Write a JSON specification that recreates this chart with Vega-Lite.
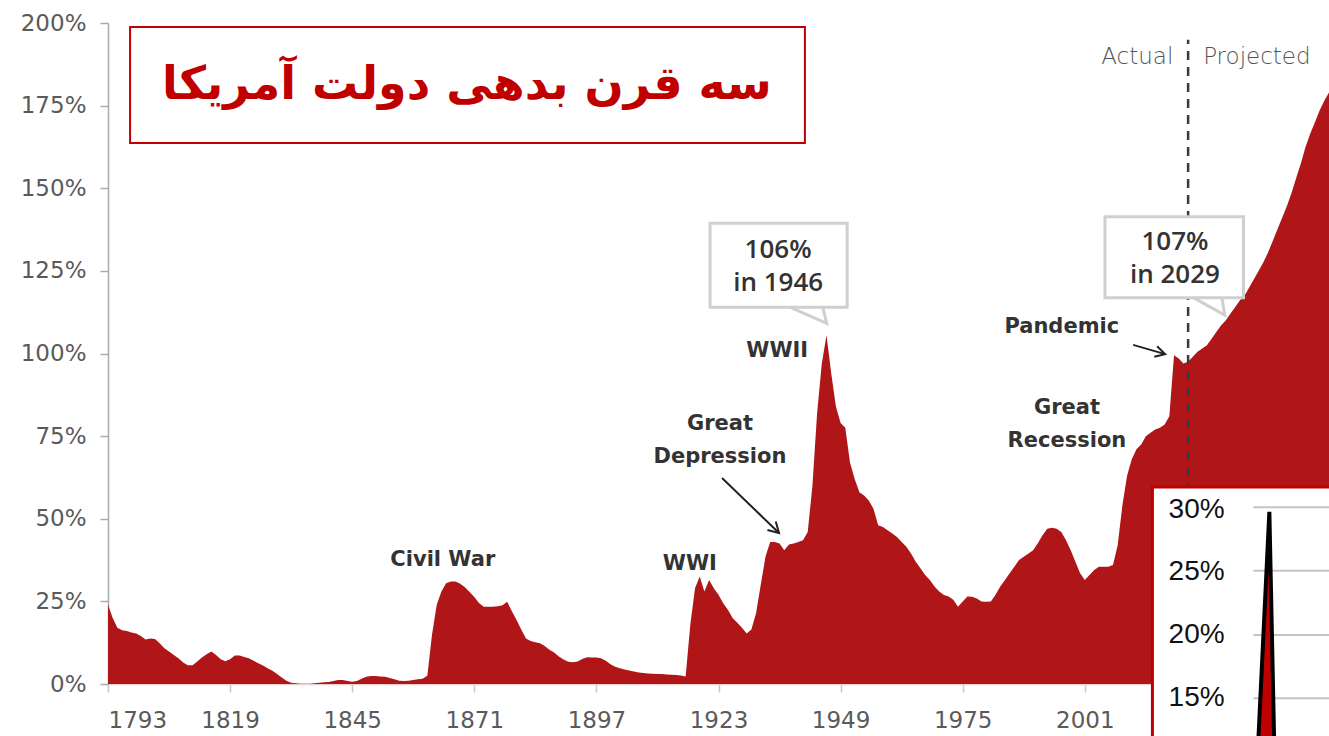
{
  "$schema": "https://vega.github.io/schema/vega-lite/v6.json",
  "width": 1221,
  "height": 661,
  "autosize": {"type": "none"},
  "padding": {"left": 108, "top": 23, "right": 0, "bottom": 52},
  "background": "white",
  "config": {"view": {"stroke": null}},
  "datasets": {
    "main": [
      {"year":1793,"v":24},{"year":1794,"v":20},{"year":1795,"v":17},{"year":1796,"v":16.3},{"year":1797,"v":16},{"year":1798,"v":15.6},{"year":1799,"v":15.3},{"year":1800,"v":14.5},{"year":1801,"v":13.5},{"year":1802,"v":13.8},{"year":1803,"v":13.6},{"year":1804,"v":12.3},{"year":1805,"v":10.8},{"year":1806,"v":9.8},{"year":1807,"v":8.8},{"year":1808,"v":7.8},{"year":1809,"v":6.5},{"year":1810,"v":5.7},{"year":1811,"v":5.7},{"year":1812,"v":6.8},{"year":1813,"v":8},{"year":1814,"v":9},{"year":1815,"v":9.8},{"year":1816,"v":8.8},{"year":1817,"v":7.5},{"year":1818,"v":6.9},{"year":1819,"v":7.5},{"year":1820,"v":8.6},{"year":1821,"v":8.6},{"year":1822,"v":8.2},{"year":1823,"v":7.8},{"year":1824,"v":7.0},{"year":1825,"v":6.3},{"year":1826,"v":5.6},{"year":1827,"v":4.8},{"year":1828,"v":4.0},{"year":1829,"v":3.0},{"year":1830,"v":2.0},{"year":1831,"v":1.0},{"year":1832,"v":0.4},{"year":1833,"v":0.2},{"year":1834,"v":0.1},{"year":1835,"v":0.1},{"year":1836,"v":0.1},{"year":1837,"v":0.2},{"year":1838,"v":0.4},{"year":1839,"v":0.5},{"year":1840,"v":0.6},{"year":1841,"v":0.9},{"year":1842,"v":1.2},{"year":1843,"v":1.2},{"year":1844,"v":0.9},{"year":1845,"v":0.7},{"year":1846,"v":0.9},{"year":1847,"v":1.6},{"year":1848,"v":2.2},{"year":1849,"v":2.4},{"year":1850,"v":2.4},{"year":1851,"v":2.3},{"year":1852,"v":2.2},{"year":1853,"v":1.8},{"year":1854,"v":1.4},{"year":1855,"v":1.0},{"year":1856,"v":0.9},{"year":1857,"v":1.0},{"year":1858,"v":1.2},{"year":1859,"v":1.4},{"year":1860,"v":1.6},{"year":1861,"v":2.5},{"year":1862,"v":15},{"year":1863,"v":24},{"year":1864,"v":28},{"year":1865,"v":30.5},{"year":1866,"v":31},{"year":1867,"v":31},{"year":1868,"v":30.3},{"year":1869,"v":29.3},{"year":1870,"v":27.8},{"year":1871,"v":26.3},{"year":1872,"v":24.5},{"year":1873,"v":23.4},{"year":1874,"v":23.4},{"year":1875,"v":23.4},{"year":1876,"v":23.5},{"year":1877,"v":23.8},{"year":1878,"v":24.9},{"year":1879,"v":22},{"year":1880,"v":19.4},{"year":1881,"v":16.5},{"year":1882,"v":13.8},{"year":1883,"v":13},{"year":1884,"v":12.6},{"year":1885,"v":12.3},{"year":1886,"v":11.5},{"year":1887,"v":10.4},{"year":1888,"v":9.5},{"year":1889,"v":8.3},{"year":1890,"v":7.4},{"year":1891,"v":6.7},{"year":1892,"v":6.6},{"year":1893,"v":6.8},{"year":1894,"v":7.6},{"year":1895,"v":8.1},{"year":1896,"v":8.0},{"year":1897,"v":8.0},{"year":1898,"v":7.8},{"year":1899,"v":7.0},{"year":1900,"v":6.0},{"year":1901,"v":5.2},{"year":1902,"v":4.8},{"year":1903,"v":4.4},{"year":1904,"v":4.1},{"year":1905,"v":3.8},{"year":1906,"v":3.5},{"year":1907,"v":3.3},{"year":1908,"v":3.2},{"year":1909,"v":3.1},{"year":1910,"v":3.0},{"year":1911,"v":3.0},{"year":1912,"v":2.9},{"year":1913,"v":2.8},{"year":1914,"v":2.7},{"year":1915,"v":2.6},{"year":1916,"v":2.3},{"year":1917,"v":18},{"year":1918,"v":29},{"year":1919,"v":32.5},{"year":1920,"v":28},{"year":1921,"v":31.5},{"year":1922,"v":29},{"year":1923,"v":27},{"year":1924,"v":24.4},{"year":1925,"v":22.5},{"year":1926,"v":20},{"year":1927,"v":18.5},{"year":1928,"v":17},{"year":1929,"v":15.3},{"year":1930,"v":16.5},{"year":1931,"v":21.4},{"year":1932,"v":30},{"year":1933,"v":38.5},{"year":1934,"v":43},{"year":1935,"v":43},{"year":1936,"v":42.5},{"year":1937,"v":40.5},{"year":1938,"v":42.2},{"year":1939,"v":42.5},{"year":1940,"v":43},{"year":1941,"v":43.5},{"year":1942,"v":46},{"year":1943,"v":60},{"year":1944,"v":82},{"year":1945,"v":97},{"year":1946,"v":105.5},{"year":1947,"v":94},{"year":1948,"v":84},{"year":1949,"v":79},{"year":1950,"v":77.5},{"year":1951,"v":67},{"year":1952,"v":62},{"year":1953,"v":58},{"year":1954,"v":57},{"year":1955,"v":55.5},{"year":1956,"v":53},{"year":1957,"v":48},{"year":1958,"v":47.5},{"year":1959,"v":46.5},{"year":1960,"v":45.5},{"year":1961,"v":44.5},{"year":1962,"v":43},{"year":1963,"v":41.5},{"year":1964,"v":39.5},{"year":1965,"v":37},{"year":1966,"v":35},{"year":1967,"v":33},{"year":1968,"v":31.5},{"year":1969,"v":29.5},{"year":1970,"v":28},{"year":1971,"v":26.9},{"year":1972,"v":26.5},{"year":1973,"v":25.5},{"year":1974,"v":23.4},{"year":1975,"v":25},{"year":1976,"v":26.5},{"year":1977,"v":26.4},{"year":1978,"v":25.9},{"year":1979,"v":25},{"year":1980,"v":24.9},{"year":1981,"v":25},{"year":1982,"v":27},{"year":1983,"v":29.5},{"year":1984,"v":31.5},{"year":1985,"v":33.5},{"year":1986,"v":35.5},{"year":1987,"v":37.5},{"year":1988,"v":38.5},{"year":1989,"v":39.5},{"year":1990,"v":40.5},{"year":1991,"v":42.6},{"year":1992,"v":45},{"year":1993,"v":47},{"year":1994,"v":47.3},{"year":1995,"v":47},{"year":1996,"v":46},{"year":1997,"v":43.5},{"year":1998,"v":40.5},{"year":1999,"v":37},{"year":2000,"v":33.5},{"year":2001,"v":31.5},{"year":2002,"v":33},{"year":2003,"v":34.5},{"year":2004,"v":35.5},{"year":2005,"v":35.5},{"year":2006,"v":35.5},{"year":2007,"v":36},{"year":2008,"v":42},{"year":2009,"v":54},{"year":2010,"v":63},{"year":2011,"v":68},{"year":2012,"v":71},{"year":2013,"v":72.5},{"year":2014,"v":75},{"year":2015,"v":76},{"year":2016,"v":77},{"year":2017,"v":77.5},{"year":2018,"v":78.5},{"year":2019,"v":81},{"year":2020,"v":99.5},{"year":2021,"v":98.5},{"year":2022,"v":97},{"year":2023,"v":97.5},{"year":2024,"v":99},{"year":2025,"v":100.5},{"year":2026,"v":101.5},{"year":2027,"v":102.5},{"year":2028,"v":104.5},{"year":2029,"v":106.5},{"year":2030,"v":108.5},{"year":2031,"v":110},{"year":2032,"v":112},{"year":2033,"v":114},{"year":2034,"v":116},{"year":2035,"v":117.5},{"year":2036,"v":120},{"year":2037,"v":122.5},{"year":2038,"v":125},{"year":2039,"v":127.5},{"year":2040,"v":130.5},{"year":2041,"v":134},{"year":2042,"v":137.5},{"year":2043,"v":141},{"year":2044,"v":144.5},{"year":2045,"v":148.5},{"year":2046,"v":153},{"year":2047,"v":157.5},{"year":2048,"v":162.5},{"year":2049,"v":166.5},{"year":2050,"v":170},{"year":2051,"v":173.5},{"year":2052,"v":176.5},{"year":2053,"v":179}
    ],
    "divider": [{"year": 2023, "v": 0, "v2": 194.9}],
    "notes": [
      {"year":1864.3,"v":37.5,"t":"Civil War"},
      {"year":1916.9,"v":36.3,"t":"WWI"},
      {"year":1923.3,"v":78.7,"t":"Great"},
      {"year":1923.3,"v":68.7,"t":"Depression"},
      {"year":1935.5,"v":100.8,"t":"WWII"},
      {"year":1996.1,"v":108.0,"t":"Pandemic"},
      {"year":1997.2,"v":83.5,"t":"Great"},
      {"year":1997.2,"v":73.5,"t":"Recession"}
    ],
    "arrows": [
      {"id":"a","o":1,"year":1923.75,"v":62.33},{"id":"a","o":2,"year":1935.89,"v":45.69},
      {"id":"b","o":1,"year":1935.19,"v":49.17},{"id":"b","o":2,"year":1935.89,"v":45.69},{"id":"b","o":3,"year":1933.42,"v":46.57},
      {"id":"c","o":1,"year":2011.3,"v":102.6},{"id":"c","o":2,"year":2018.1,"v":99.8},
      {"id":"d","o":1,"year":2016.4,"v":102.2},{"id":"d","o":2,"year":2018.1,"v":99.8},{"id":"d","o":3,"year":2015.8,"v":99.0}
    ],
    "boxes": [
      {"year":1921.2,"year2":1950.4,"v":139.4,"v2":114.0},
      {"year":2005.3,"year2":2034.8,"v":141.4,"v2":116.9}
    ],
    "tails": [
      {"id":"t1","o":1,"year":1938.2,"v":114.0},{"id":"t1","o":2,"year":1946.05,"v":109.1},{"id":"t1","o":3,"year":1945.2,"v":114.0},
      {"id":"t2","o":1,"year":2024.1,"v":116.9},{"id":"t2","o":2,"year":2030.8,"v":111.6},{"id":"t2","o":3,"year":2030.2,"v":116.9}
    ],
    "callouts": [
      {"year":1935.7,"v":131.3,"t":"106%"},
      {"year":1935.7,"v":121.2,"t":"in 1946"},
      {"year":2020.2,"v":133.8,"t":"107%"},
      {"year":2020.2,"v":123.8,"t":"in 2029"}
    ],
    "actual": [{"year":2019.85,"v":189.8,"t":"Actual"}],
    "projected": [{"year":2026.2,"v":189.8,"t":"Projected"}],
    "titleBox": [{"year":1797.7,"year2":1941.4,"v":198.8,"v2":163.7}],
    "titleText": [{"year":1869.4,"v":181.2,"t":"سه قرن بدهی دولت آمریکا"}],
    "insetBox": [{"year":2015.4,"year2":2070,"v":59.6,"v2":-25}],
    "insetGrid": [
      {"year":2036.9,"year2":2070,"v":53.5},
      {"year":2036.9,"year2":2070,"v":34.3},
      {"year":2036.9,"year2":2070,"v":14.8},
      {"year":2036.9,"year2":2070,"v":-4.3}
    ],
    "insetLabels": [
      {"year":2024.8,"v":52.6,"t":"30%"},
      {"year":2024.8,"v":34.0,"t":"25%"},
      {"year":2024.8,"v":14.8,"t":"20%"},
      {"year":2024.8,"v":-4.3,"t":"15%"}
    ],
    "spike": [
      {"year":2037.85,"v":-20,"v2":-20},
      {"year":2040.3,"v":52.1,"v2":-20},
      {"year":2041.36,"v":-20,"v2":-20}
    ]
  },
  "encoding": {
    "x": {
      "field": "year", "type": "quantitative",
      "scale": {"domain": [1793, 2053], "nice": false, "zero": false},
      "axis": {
        "title": null, "values": [1793,1819,1845,1871,1897,1923,1949,1975,2001],
        "format": "d", "grid": false,
        "labelFont": "DejaVu Sans", "labelFontSize": 23, "labelColor": "#5a5a5a",
        "labelPadding": 17, "tickSize": 8, "tickColor": "#c8c8c8", "tickWidth": 1.5,
        "domainColor": "#ecd0d0", "domainWidth": 1.5
      }
    },
    "y": {
      "field": "v", "type": "quantitative",
      "scale": {"domain": [0, 200], "nice": false},
      "axis": {
        "title": null, "values": [0,25,50,75,100,125,150,175,200],
        "labelExpr": "datum.value + '%'", "grid": false,
        "labelFont": "DejaVu Sans", "labelFontSize": 23, "labelColor": "#5a5a5a",
        "labelPadding": 14, "tickSize": 8, "tickColor": "#aaa", "tickWidth": 1.5,
        "domainColor": "#aaa", "domainWidth": 1.5
      }
    }
  },
  "layer": [
    {"data": {"name": "main"}, "mark": {"type": "area", "color": "#b01518", "interpolate": "linear"}},
    {"data": {"name": "divider"}, "mark": {"type": "rule", "color": "#3a3a3a", "strokeWidth": 2.5, "strokeDash": [9, 7]}, "encoding": {"y2": {"field": "v2"}}},
    {"data": {"name": "notes"}, "mark": {"type": "text", "font": "DejaVu Sans", "fontWeight": "bold", "fontSize": 21, "color": "#333", "align": "center", "baseline": "middle"}, "encoding": {"text": {"field": "t"}}},
    {"data": {"name": "arrows"}, "mark": {"type": "line", "color": "#222", "strokeWidth": 2}, "encoding": {"detail": {"field": "id"}, "order": {"field": "o"}}},
    {"data": {"name": "boxes"}, "mark": {"type": "rect", "fill": "white", "stroke": "#cfcfcf", "strokeWidth": 3}, "encoding": {"x2": {"field": "year2"}, "y2": {"field": "v2"}}},
    {"data": {"name": "tails"}, "mark": {"type": "line", "color": "#cfcfcf", "strokeWidth": 3}, "encoding": {"detail": {"field": "id"}, "order": {"field": "o"}}},
    {"data": {"name": "callouts"}, "mark": {"type": "text", "font": "Open Sans", "fontWeight": 600, "fontSize": 26, "color": "#333", "align": "center", "baseline": "middle"}, "encoding": {"text": {"field": "t"}}},
    {"data": {"name": "actual"}, "mark": {"type": "text", "font": "DejaVu Sans", "fontWeight": 300, "fontSize": 23, "color": "#555", "align": "right", "baseline": "middle"}, "encoding": {"text": {"field": "t"}}},
    {"data": {"name": "projected"}, "mark": {"type": "text", "font": "DejaVu Sans", "fontWeight": 300, "fontSize": 23, "color": "#555", "align": "left", "baseline": "middle"}, "encoding": {"text": {"field": "t"}}},
    {"data": {"name": "titleBox"}, "mark": {"type": "rect", "fill": "white", "stroke": "#c00000", "strokeWidth": 2}, "encoding": {"x2": {"field": "year2"}, "y2": {"field": "v2"}}},
    {"data": {"name": "titleText"}, "mark": {"type": "text", "font": "DejaVu Sans", "fontWeight": "bold", "fontSize": 46, "color": "#c00000", "align": "center", "baseline": "middle"}, "encoding": {"text": {"field": "t"}}},
    {"data": {"name": "insetBox"}, "mark": {"type": "rect", "fill": "white", "stroke": "#c00000", "strokeWidth": 3, "clip": false}, "encoding": {"x2": {"field": "year2"}, "y2": {"field": "v2"}}},
    {"data": {"name": "insetGrid"}, "mark": {"type": "rule", "color": "#c4c4c4", "strokeWidth": 2, "clip": false}, "encoding": {"x2": {"field": "year2"}}},
    {"data": {"name": "insetLabels"}, "mark": {"type": "text", "font": "Liberation Sans", "fontSize": 28, "color": "#111", "align": "center", "baseline": "middle", "clip": false}, "encoding": {"text": {"field": "t"}}},
    {"data": {"name": "spike"}, "mark": {"type": "area", "fill": "#c00000", "stroke": "black", "strokeWidth": 4, "clip": false}, "encoding": {"y2": {"field": "v2"}}}
  ]
}
